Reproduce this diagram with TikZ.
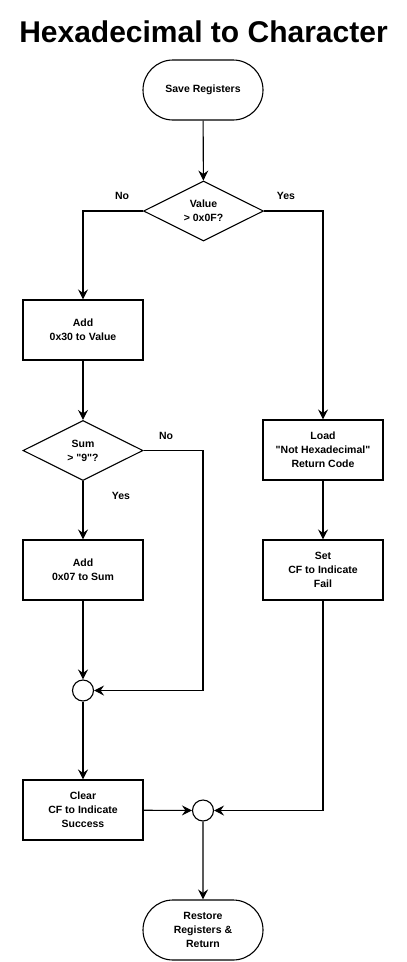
\documentclass[tikz,border=0pt]{standalone}
\usepackage{fontspec}
\setmainfont{Liberation Sans}
\usetikzlibrary{shapes.geometric,shapes.misc,arrows.meta}
\begin{document}
\begin{tikzpicture}[x=1pt,y=-1pt,line width=1.1pt,
  >={Stealth[length=10pt,width=10pt,inset=3.5pt]},
  every node/.style={font=\bfseries\fontsize{10.5}{14}\selectfont,align=center},
  term/.style={draw,rounded rectangle,minimum width=120pt,minimum height=60pt,inner sep=0pt},
  proc/.style={draw,rectangle,minimum width=120pt,minimum height=60pt,inner sep=0pt},
  test/.style={draw,diamond,aspect=2,minimum width=120pt,minimum height=60pt,inner sep=0pt},
  merge/.style={draw,circle,minimum size=21pt,inner sep=0pt},
  lbl/.style={inner sep=1pt}]
\useasboundingbox (0,0) rectangle (407,962);
\node (title) at (203.5,32) {\fontsize{30}{34}\selectfont Hexadecimal to Character};
% Left column
\node[term] (save) at (203,90) {Save Registers};
\node[test] (value) at (203.5,211) {Value\\> 0x0F?};
\node[proc] (add30) at (83,330) {Add\\0x30 to Value};
\node[test] (sum) at (83,450.5) {Sum\\> \textquotedbl 9\textquotedbl ?};
\node[proc] (add07) at (83,570) {Add\\0x07 to Sum};
\node[merge] (j1) at (83,690.5) {};
\node[proc] (clear) at (83,810) {Clear\\CF to Indicate\\Success};
% Right column
\node[proc] (load) at (323,450) {Load\\\textquotedbl Not Hexadecimal\textquotedbl\\Return Code};
\node[proc] (set) at (323,570) {Set\\CF to Indicate\\Fail};
\node[merge] (j2) at (203,810.5) {};
\node[term] (restore) at (203,930) {Restore\\Registers \&\\Return};
% Branch labels
\node[lbl] (no1) at (122,196) {No};
\node[lbl] (yes1) at (286,196) {Yes};
\node[lbl] (no2) at (166,436) {No};
\node[lbl] (yes2) at (121,496) {Yes};
\coordinate (bend) at (203,690.5);
% Connectors
\draw[->] (save) -- (value);
\draw[->] (value.west) -| (add30);
\draw[->] (value.east) -| (load);
\draw[->] (add30) -- (sum);
\draw[->] (sum) -- (add07);
\draw[->] (sum.east) -| (bend) -- (j1);
\draw[->] (add07) -- (j1);
\draw[->] (j1) -- (clear);
\draw[->] (load) -- (set);
\draw[->] (clear) -- (j2);
\draw[->] (set.south) |- (j2);
\draw[->] (j2) -- (restore);
\end{tikzpicture}
\end{document}
